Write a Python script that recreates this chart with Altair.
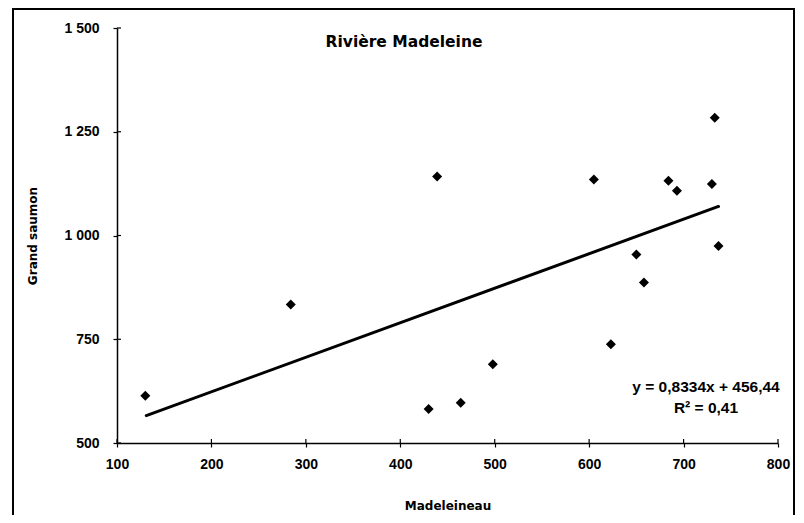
import altair as alt
import pandas as pd

# Data
madeleineau = [130, 284, 439, 430, 464, 498, 605, 623, 650, 658, 684, 693, 730, 733, 737]
grand_saumon = [614, 834, 1142, 582, 597, 690, 1135, 738, 954, 887, 1132, 1108, 1124, 1284, 975]

trend_x = [131, 737]
trend_y = [566, 1070]

x_ticks = [100, 200, 300, 400, 500, 600, 700, 800]
y_ticks = [500, 750, 1000, 1250, 1500]

title_text = "Rivière Madeleine"
eq_text = "y = 0,8334x + 456,44"
r2_text = "R² = 0,41"

pts = pd.DataFrame({"x": madeleineau, "y": grand_saumon})
trend = pd.DataFrame({"x": trend_x, "y": trend_y})
xt = pd.DataFrame({"v": x_ticks})
yt = pd.DataFrame({"v": y_ticks})
one = pd.DataFrame({"a": [0]})

W, H = 661, 415
LBL_FONT = "Liberation Sans"
TTL_FONT = "DejaVu Sans"

xscale = alt.Scale(domain=[100, 800], nice=False, zero=False)
yscale = alt.Scale(domain=[500, 1500], nice=False, zero=False)

xaxis = alt.Axis(
    values=x_ticks, title="Madeleineau", grid=False,
    domainColor="black", domainWidth=1.5, tickColor="black", tickWidth=1.2, tickSize=4,
    labelFont=LBL_FONT, labelFontWeight="bold", labelFontSize=14, labelColor="black",
    labelPadding=10, labelFlush=False,
    titleFont=TTL_FONT, titleFontWeight="bold", titleFontSize=12, titleColor="black",
    titlePadding=29,
)
yaxis = alt.Axis(
    values=y_ticks, title="Grand saumon", grid=False,
    domainColor="black", domainWidth=1.5, tickColor="black", tickWidth=1.2, tickSize=4,
    labelFont=LBL_FONT, labelFontWeight="bold", labelFontSize=14, labelColor="black",
    labelPadding=14, labelFlush=False,
    labelExpr="replace(format(datum.value, ','), ',', ' ')",
    titleFont=TTL_FONT, titleFontWeight="bold", titleFontSize=12, titleColor="black",
    titlePadding=24,
)

points = alt.Chart(pts).mark_point(
    shape="diamond", filled=True, color="black", size=100, opacity=1
).encode(
    x=alt.X("x:Q", scale=xscale, axis=xaxis),
    y=alt.Y("y:Q", scale=yscale, axis=yaxis),
)

line = alt.Chart(trend).mark_line(color="black", strokeWidth=3, strokeCap="round").encode(
    x=alt.X("x:Q", scale=xscale),
    y=alt.Y("y:Q", scale=yscale),
)

# inward half of the crossing tick marks
xin = alt.Chart(xt).mark_rule(color="black", strokeWidth=1.2).encode(
    x=alt.X("v:Q", scale=xscale), y=alt.value(H - 4), y2=alt.value(H)
)
yin = alt.Chart(yt).mark_rule(color="black", strokeWidth=1.2).encode(
    y=alt.Y("v:Q", scale=yscale), x=alt.value(0), x2=alt.value(4)
)

title = alt.Chart(one).mark_text(
    text=title_text, font=TTL_FONT, fontWeight="bold", fontSize=15.5, color="black",
    align="center", baseline="middle",
).encode(x=alt.value(287), y=alt.value(14))

eq = alt.Chart(one).mark_text(
    text=eq_text, font=LBL_FONT, fontWeight="bold", fontSize=15.5, color="black",
    align="center", baseline="middle",
).encode(x=alt.value(589), y=alt.value(359))

r2 = alt.Chart(one).mark_text(
    text=r2_text, font=LBL_FONT, fontWeight="bold", fontSize=15.5, color="black",
    align="center", baseline="middle",
).encode(x=alt.value(589), y=alt.value(380))

border = alt.Chart(one).mark_rect(
    fill="transparent", stroke="black", strokeWidth=2
).encode(x=alt.value(-104), x2=alt.value(677), y=alt.value(-19), y2=alt.value(620))

chart = alt.layer(border, line, points, xin, yin, title, eq, r2).properties(
    width=W, height=H,
    autosize=alt.AutoSizeParams(type="none"),
    padding={"left": 109, "top": 20, "right": 18, "bottom": 72},
    background="white",
).configure_view(strokeWidth=0)

chart.save("out.html", embed_options={"renderer": "svg", "actions": False})
